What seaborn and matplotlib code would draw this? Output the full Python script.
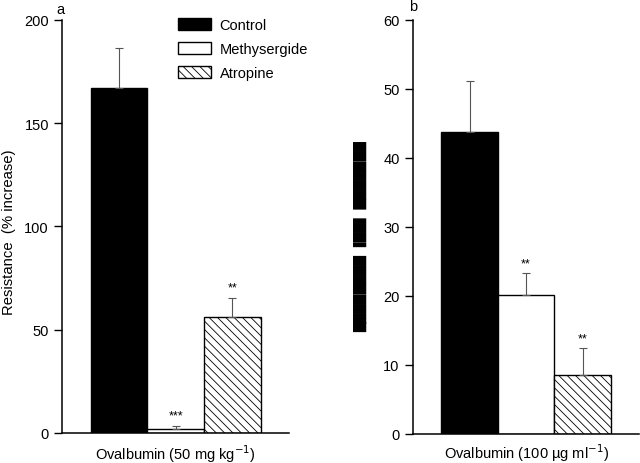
import numpy as np
import pandas as pd
import matplotlib
matplotlib.use('Agg')
import matplotlib.pyplot as plt
import seaborn as sns

groups = ['Control', 'Methysergide', 'Atropine']
colors = {'Control': 'black', 'Methysergide': 'white', 'Atropine': 'white'}
hatches = ['', '', '\\\\\\\\']

# panel a: airway resistance
a_means = [167, 2, 56]
a_errs = [19.5, 1.3, 9.5]
a_stars = ['', '***', '**']
a_xlabel = 'Ovalbumin (50 mg kg$^{-1}$)'
a_yticks = [0, 50, 100, 150, 200]

# panel b: ylabel in the source is unreadable, kept as block glyphs
b_means = [43.8, 20.2, 8.5]
b_errs = [7.4, 3.1, 3.9]
b_stars = ['', '**', '**']
b_xlabel = 'Ovalbumin (100 \u00b5g ml$^{-1}$)'
b_yticks = [0, 10, 20, 30, 40, 50, 60]
b_ylabel = '\u2588' * 8 + ' ' + '\u2590\u2588\u2588\u258c' + ' ' + '\u2588' * 7

sns.set_style('ticks')
plt.rcParams['font.family'] = ['Liberation Sans', 'DejaVu Sans']
plt.rcParams['text.color'] = 'black'
plt.rcParams['axes.labelcolor'] = 'black'
plt.rcParams['axes.edgecolor'] = 'black'
plt.rcParams['ytick.color'] = 'black'
plt.rcParams['ytick.labelcolor'] = 'black'
plt.rcParams['hatch.color'] = '#555555'
plt.rcParams['hatch.linewidth'] = 0.6
plt.rcParams['axes.linewidth'] = 1.1
plt.rcParams['xtick.major.size'] = 0
plt.rcParams['ytick.major.size'] = 6
plt.rcParams['ytick.major.width'] = 1.0
plt.rcParams['font.size'] = 10.5

fig = plt.figure(figsize=(6.4, 4.64), dpi=100)
ax_a = fig.add_axes([0.097, 0.065, 0.355, 0.890])
ax_b = fig.add_axes([0.645, 0.0625, 0.354, 0.8925])


def draw_panel(ax, means, errs, stars, xlabel, yticks, pad):
    df = pd.DataFrame({'x': [xlabel] * 3, 'group': groups, 'value': means})
    sns.barplot(data=df, x='x', y='value', hue='group', hue_order=groups,
                palette=colors, saturation=1, edgecolor='black', linewidth=1,
                width=0.8, errorbar=None, legend=False, ax=ax)
    bars = list(ax.containers)
    for cont, h, g in zip(bars, hatches, groups):
        cont.set_label(g)
        for p in cont:
            p.set_hatch(h)
    centers = [p.get_x() + p.get_width() / 2 for c in bars for p in c]
    ax.errorbar(centers, means, yerr=[np.zeros(3), errs], fmt='none',
                ecolor='#555555', elinewidth=0.8, capsize=3, capthick=0.8, zorder=3)
    for x, m, e, s in zip(centers, means, errs, stars):
        if s:
            ax.annotate(s, (x, m + e), xytext=(0, 3), textcoords='offset points',
                        ha='center', va='bottom', fontsize=9)
    ax.set_xlim(-0.534, 0.534)
    ax.set_ylim(yticks[0], yticks[-1])
    ax.set_yticks(yticks)
    ax.set_xticks([])
    ax.set_xlabel(xlabel, fontsize=10.5, labelpad=pad)
    sns.despine(ax=ax)
    return bars


bars_a = draw_panel(ax_a, a_means, a_errs, a_stars, a_xlabel, a_yticks, 7)
draw_panel(ax_b, b_means, b_errs, b_stars, b_xlabel, b_yticks, 5)

ax_a.set_ylabel('Resistance  (% increase)', fontsize=10.7)
ax_a.yaxis.set_label_coords(-0.205, 0.487)
ax_b.set_ylabel(b_ylabel, fontsize=9, family=['DejaVu Sans'])
ax_b.yaxis.set_label_coords(-0.203, 0.48)

ax_a.legend(handles=bars_a, loc='upper left', bbox_to_anchor=(0.51, 1.005),
            frameon=False, fontsize=10.5, borderpad=0, borderaxespad=0,
            handlelength=2.3, handleheight=0.85, handletextpad=0.55, labelspacing=0.7)

fig.text(60 / 640, 1 - 10 / 464, 'a', ha='center', va='center', fontsize=10.5)
fig.text(413 / 640, 1 - 7 / 464, 'b', ha='center', va='center', fontsize=10.5)

fig.savefig('out.png', dpi=100)
